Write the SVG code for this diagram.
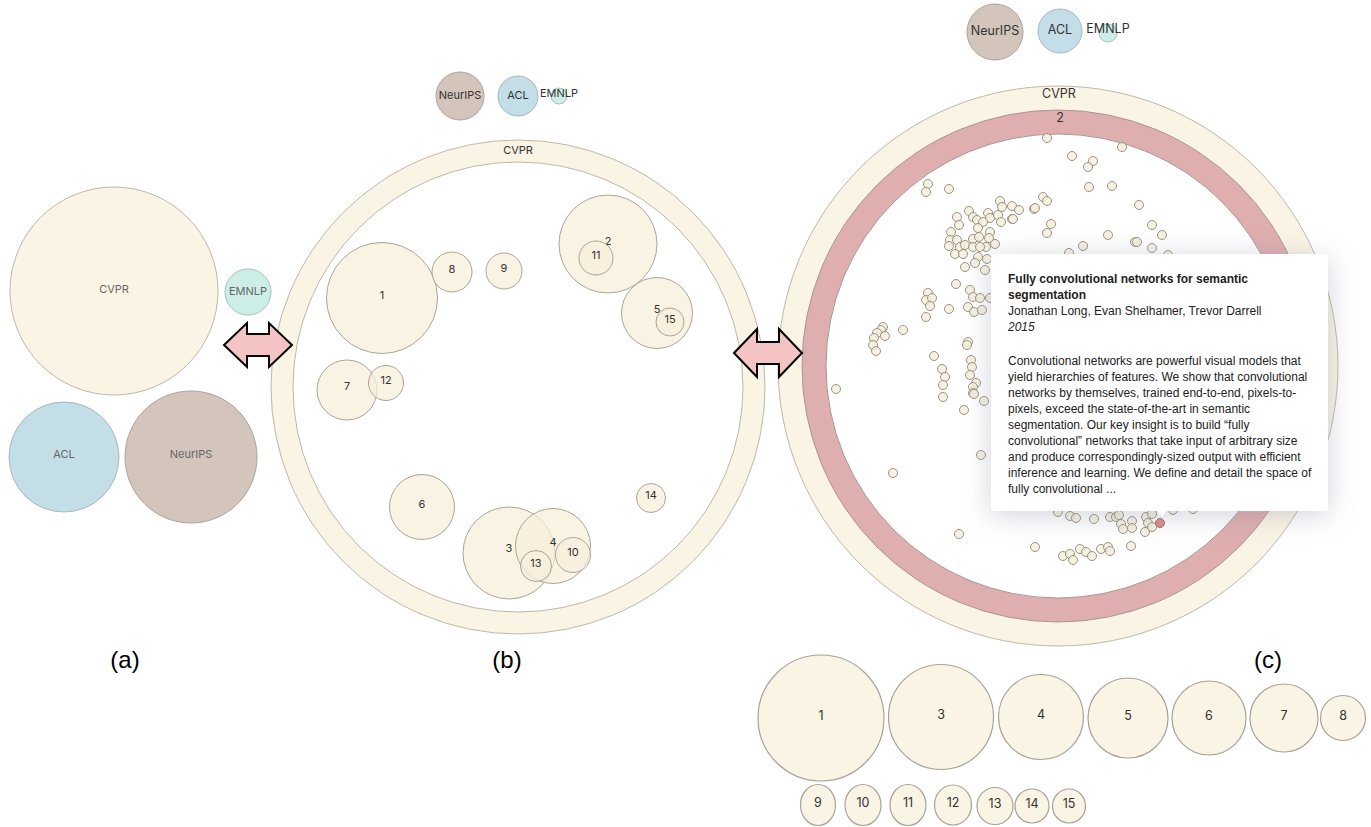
<svg xmlns="http://www.w3.org/2000/svg" width="1371" height="827" viewBox="0 0 1371 827">
<style>
.lbl{font-family:Inter,"Noto Sans",sans-serif;fill:#333;text-anchor:middle;dominant-baseline:central}
.la{font-size:11px;fill:#666}
.lb{font-size:11px}
.lc{font-size:12.5px}
.cream{fill:#faf4e4;stroke:#bdb8ad;stroke-width:1}
.sub{fill:#f7efd9;fill-opacity:0.72;stroke:#aaa59a;stroke-width:1}
.leg{fill:#faf4e4;stroke:#a8a398;stroke-width:1.2}
.acl{fill:#c3dee6;stroke:#a5b9bf;stroke-width:1}
.neu{fill:#d3c5bc;stroke:#aea39b;stroke-width:1}
.emn{fill:#cdeee6;stroke:#9fc4bb;stroke-width:1}
.arrow{fill:#f4c3c3;stroke:#000;stroke-width:2;stroke-linejoin:miter}
.dot{fill:#f4efdc;fill-opacity:0.85;stroke:#9a9484;stroke-width:1}
.cap{font-family:"Liberation Sans",Arial,sans-serif;font-size:24px;fill:#000;text-anchor:middle}
.tt{font-family:"Liberation Sans",Arial,sans-serif;font-size:12px;fill:#222}
</style>
<defs>
<filter id="shadow" x="-30%" y="-30%" width="160%" height="160%">
<feGaussianBlur in="SourceAlpha" stdDeviation="14"/>
<feOffset dx="0" dy="4" result="b"/>
<feFlood flood-color="#7a8098" flood-opacity="0.35"/>
<feComposite in2="b" operator="in"/>
<feMerge><feMergeNode/><feMergeNode in="SourceGraphic"/></feMerge>
</filter>
</defs>
<rect width="1371" height="827" fill="#fff"/>

<!-- Panel (a) -->
<g id="a-cvpr"><circle class="cream" cx="114" cy="291" r="104"/><text class="lbl la" x="114" y="289">CVPR</text></g>
<g id="a-emnlp"><circle class="emn" cx="248" cy="292" r="23"/><text class="lbl la" x="248" y="291">EMNLP</text></g>
<g id="a-acl"><circle class="acl" cx="64" cy="457" r="55"/><text class="lbl la" x="64" y="454">ACL</text></g>
<g id="a-neurips"><circle class="neu" cx="191" cy="457" r="66"/><text class="lbl la" x="191" y="454">NeurIPS</text></g>

<!-- Panel (b) -->
<g id="b-neurips"><circle class="neu" cx="460" cy="96" r="24"/><text class="lbl lb" x="460" y="95">NeurIPS</text></g>
<g id="b-acl"><circle class="acl" cx="518" cy="96" r="20"/><text class="lbl lb" x="518" y="95">ACL</text></g>
<g id="b-emnlp"><circle class="emn" cx="559" cy="96" r="8"/><text class="lbl lb" x="559" y="93">EMNLP</text></g>
<g id="b-cvpr">
<circle class="cream" cx="518" cy="387" r="247"/>
<circle cx="518" cy="387" r="225" fill="#fff" stroke="#bdb8ad" stroke-width="1"/>
<text class="lbl lb" x="518" y="150">CVPR</text>
</g>
<g id="b-1"><circle class="sub" cx="382" cy="298" r="55.5"/><text class="lbl lb" x="382" y="295">1</text></g>
<g id="b-8"><circle class="sub" cx="452" cy="272" r="20"/><text class="lbl lb" x="452" y="269">8</text></g>
<g id="b-9"><circle class="sub" cx="504" cy="271" r="18"/><text class="lbl lb" x="504" y="268">9</text></g>
<g id="b-2"><circle class="sub" cx="608" cy="244" r="49"/><text class="lbl lb" x="608" y="241">2</text></g>
<g id="b-11"><circle class="sub" cx="596" cy="258" r="17"/><text class="lbl lb" x="596" y="255">11</text></g>
<g id="b-5"><circle class="sub" cx="657" cy="313" r="35.5"/><text class="lbl lb" x="657" y="309">5</text></g>
<g id="b-15"><circle class="sub" cx="670" cy="322" r="14"/><text class="lbl lb" x="670" y="319">15</text></g>
<g id="b-7"><circle class="sub" cx="347" cy="390" r="30"/><text class="lbl lb" x="347" y="386">7</text></g>
<g id="b-12"><circle class="sub" cx="386" cy="383" r="17.5"/><text class="lbl lb" x="386" y="380">12</text></g>
<g id="b-6"><circle class="sub" cx="422" cy="507" r="32.5"/><text class="lbl lb" x="422" y="504">6</text></g>
<g id="b-14"><circle class="sub" cx="651" cy="498" r="14.5"/><text class="lbl lb" x="651" y="495">14</text></g>
<g id="b-3"><circle class="sub" cx="509" cy="553" r="46"/><text class="lbl lb" x="509" y="548">3</text></g>
<g id="b-4"><circle class="sub" cx="553" cy="546" r="37.5"/><text class="lbl lb" x="553" y="542">4</text></g>
<g id="b-10"><circle class="sub" cx="573" cy="555" r="17.5"/><text class="lbl lb" x="573" y="552">10</text></g>
<g id="b-13"><circle class="sub" cx="536" cy="566" r="15.5"/><text class="lbl lb" x="536" y="563">13</text></g>

<!-- Panel (c) -->
<g id="c-neurips"><circle class="neu" cx="995" cy="32" r="28"/><text class="lbl lc" x="995" y="30">NeurIPS</text></g>
<g id="c-acl"><circle class="acl" cx="1060" cy="31" r="22"/><text class="lbl lc" x="1060" y="29">ACL</text></g>
<g id="c-emnlp"><circle class="emn" cx="1108" cy="33" r="9"/><text class="lbl lc" x="1108" y="28">EMNLP</text></g>
<g id="c-cvpr">
<circle class="cream" cx="1058" cy="366" r="280"/>
<text class="lbl lc" x="1059" y="93">CVPR</text>
</g>
<g id="c-2">
<circle cx="1058" cy="366" r="256" fill="#dfaeae" stroke="#a89696" stroke-width="1"/>
<circle cx="1058" cy="366" r="232" fill="#fff" stroke="#a89696" stroke-width="1"/>
<text class="lbl lc" x="1060" y="117">2</text>
</g>
<g id="c-papers">
<circle class="dot" cx="1047" cy="138" r="4.5"/><circle class="dot" cx="928" cy="184" r="4.5"/><circle class="dot" cx="926" cy="192" r="4.5"/><circle class="dot" cx="949" cy="189" r="4.5"/><circle class="dot" cx="1000" cy="201" r="4.5"/><circle class="dot" cx="1002" cy="207" r="4.5"/><circle class="dot" cx="1012" cy="206" r="4.5"/><circle class="dot" cx="1019" cy="210" r="4.5"/><circle class="dot" cx="1034" cy="209" r="4.5"/><circle class="dot" cx="1043" cy="197" r="4.5"/><circle class="dot" cx="1047" cy="201" r="4.5"/><circle class="dot" cx="1051" cy="224" r="4.5"/><circle class="dot" cx="1047" cy="233" r="4.5"/><circle class="dot" cx="969" cy="211" r="4.5"/><circle class="dot" cx="973" cy="217" r="4.5"/><circle class="dot" cx="988" cy="213" r="4.5"/><circle class="dot" cx="990" cy="218" r="4.5"/><circle class="dot" cx="998" cy="215" r="4.5"/><circle class="dot" cx="1001" cy="222" r="4.5"/><circle class="dot" cx="1012" cy="219" r="4.5"/><circle class="dot" cx="957" cy="217" r="4.5"/><circle class="dot" cx="959" cy="225" r="4.5"/><circle class="dot" cx="977" cy="220" r="4.5"/><circle class="dot" cx="983" cy="222" r="4.5"/><circle class="dot" cx="978" cy="228" r="4.5"/><circle class="dot" cx="951" cy="232" r="4.5"/><circle class="dot" cx="950" cy="240" r="4.5"/><circle class="dot" cx="949" cy="246" r="4.5"/><circle class="dot" cx="957" cy="240" r="4.5"/><circle class="dot" cx="960" cy="247" r="4.5"/><circle class="dot" cx="965" cy="245" r="4.5"/><circle class="dot" cx="973" cy="239" r="4.5"/><circle class="dot" cx="979" cy="237" r="4.5"/><circle class="dot" cx="990" cy="232" r="4.5"/><circle class="dot" cx="989" cy="238" r="4.5"/><circle class="dot" cx="986" cy="247" r="4.5"/><circle class="dot" cx="995" cy="244" r="4.5"/><circle class="dot" cx="955" cy="254" r="4.5"/><circle class="dot" cx="963" cy="254" r="4.5"/><circle class="dot" cx="973" cy="247" r="4.5"/><circle class="dot" cx="980" cy="247" r="4.5"/><circle class="dot" cx="978" cy="257" r="4.5"/><circle class="dot" cx="987" cy="259" r="4.5"/><circle class="dot" cx="975" cy="263" r="4.5"/><circle class="dot" cx="985" cy="270" r="4.5"/><circle class="dot" cx="965" cy="267" r="4.5"/><circle class="dot" cx="956" cy="284" r="4.5"/><circle class="dot" cx="928" cy="293" r="4.5"/><circle class="dot" cx="926" cy="300" r="4.5"/><circle class="dot" cx="932" cy="298" r="4.5"/><circle class="dot" cx="930" cy="306" r="4.5"/><circle class="dot" cx="949" cy="309" r="4.5"/><circle class="dot" cx="926" cy="317" r="4.5"/><circle class="dot" cx="970" cy="290" r="4.5"/><circle class="dot" cx="973" cy="297" r="4.5"/><circle class="dot" cx="980" cy="298" r="4.5"/><circle class="dot" cx="968" cy="307" r="4.5"/><circle class="dot" cx="974" cy="312" r="4.5"/><circle class="dot" cx="982" cy="310" r="4.5"/><circle class="dot" cx="990" cy="298" r="4.5"/><circle class="dot" cx="883" cy="327" r="4.5"/><circle class="dot" cx="881" cy="330" r="4.5"/><circle class="dot" cx="877" cy="333" r="4.5"/><circle class="dot" cx="885" cy="336" r="4.5"/><circle class="dot" cx="874" cy="338" r="4.5"/><circle class="dot" cx="873" cy="345" r="4.5"/><circle class="dot" cx="876" cy="351" r="4.5"/><circle class="dot" cx="903" cy="330" r="4.5"/><circle class="dot" cx="968" cy="342" r="4.5"/><circle class="dot" cx="967" cy="345" r="4.5"/><circle class="dot" cx="934" cy="356" r="4.5"/><circle class="dot" cx="942" cy="369" r="4.5"/><circle class="dot" cx="945" cy="377" r="4.5"/><circle class="dot" cx="943" cy="385" r="4.5"/><circle class="dot" cx="971" cy="360" r="4.5"/><circle class="dot" cx="972" cy="367" r="4.5"/><circle class="dot" cx="970" cy="375" r="4.5"/><circle class="dot" cx="976" cy="383" r="4.5"/><circle class="dot" cx="973" cy="387" r="4.5"/><circle class="dot" cx="973" cy="393" r="4.5"/><circle class="dot" cx="836" cy="389" r="4.5"/><circle class="dot" cx="943" cy="397" r="4.5"/>
<circle class="dot" cx="964" cy="410" r="4.5"/><circle class="dot" cx="974" cy="394" r="4.5"/><circle class="dot" cx="984" cy="401" r="4.5"/><circle class="dot" cx="981" cy="455" r="4.5"/><circle class="dot" cx="893" cy="473" r="4.5"/><circle class="dot" cx="959" cy="534" r="4.5"/><circle class="dot" cx="1035" cy="547" r="4.5"/>
<circle class="dot" cx="1072" cy="156" r="4.5"/><circle class="dot" cx="1122" cy="147" r="4.5"/><circle class="dot" cx="1093" cy="161" r="4.5"/><circle class="dot" cx="1088" cy="167" r="4.5"/><circle class="dot" cx="1089" cy="187" r="4.5"/><circle class="dot" cx="1112" cy="186" r="4.5"/><circle class="dot" cx="1139" cy="205" r="4.5"/><circle class="dot" cx="1035" cy="208" r="4.5"/><circle class="dot" cx="1013" cy="219" r="4.5"/><circle class="dot" cx="1108" cy="235" r="4.5"/><circle class="dot" cx="1152" cy="225" r="4.5"/><circle class="dot" cx="1162" cy="235" r="4.5"/><circle class="dot" cx="1135" cy="242" r="4.5"/><circle class="dot" cx="1137" cy="242" r="4.5"/><circle class="dot" cx="1152" cy="248" r="4.5"/><circle class="dot" cx="1083" cy="246" r="4.5"/><circle class="dot" cx="1069" cy="253" r="4.5"/><circle class="dot" cx="1168" cy="255" r="4.5"/>
<circle class="dot" cx="1058" cy="512" r="4.5"/><circle class="dot" cx="1070" cy="516" r="4.5"/><circle class="dot" cx="1076" cy="518" r="4.5"/><circle class="dot" cx="1094" cy="519" r="4.5"/><circle class="dot" cx="1110" cy="517" r="4.5"/><circle class="dot" cx="1116" cy="517" r="4.5"/><circle class="dot" cx="1119" cy="515" r="4.5"/><circle class="dot" cx="1121" cy="524" r="4.5"/><circle class="dot" cx="1123" cy="529" r="4.5"/><circle class="dot" cx="1132" cy="521" r="4.5"/><circle class="dot" cx="1132" cy="528" r="4.5"/><circle class="dot" cx="1146" cy="517" r="4.5"/><circle class="dot" cx="1148" cy="523" r="4.5"/><circle class="dot" cx="1152" cy="514" r="4.5"/><circle class="dot" cx="1152" cy="527" r="4.5"/><circle class="dot" cx="1145" cy="532" r="4.5"/><circle class="dot" cx="1173" cy="510" r="4.5"/><circle class="dot" cx="1193" cy="509" r="4.5"/><circle class="dot" cx="1063" cy="556" r="4.5"/><circle class="dot" cx="1070" cy="554" r="4.5"/><circle class="dot" cx="1073" cy="560" r="4.5"/><circle class="dot" cx="1080" cy="549" r="4.5"/><circle class="dot" cx="1086" cy="552" r="4.5"/><circle class="dot" cx="1092" cy="556" r="4.5"/><circle class="dot" cx="1101" cy="549" r="4.5"/><circle class="dot" cx="1108" cy="547" r="4.5"/><circle class="dot" cx="1110" cy="551" r="4.5"/><circle class="dot" cx="1131" cy="546" r="4.5"/>
<circle cx="1160" cy="523" r="4.5" fill="#d98e8e" stroke="#a46a6a" stroke-width="1"/>
</g>
<g id="tooltip">
<g filter="url(#shadow)">
<rect x="991" y="254" width="337" height="257" rx="3" fill="#fff"/>
<polygon points="1157,510 1167,510 1162,517" fill="#fff"/>
</g>
<text class="tt" font-weight="bold" x="1008" y="283">Fully convolutional networks for semantic</text>
<text class="tt" font-weight="bold" x="1008" y="299">segmentation</text>
<text class="tt" x="1008" y="315">Jonathan Long, Evan Shelhamer, Trevor Darrell</text>
<text class="tt" font-style="italic" x="1008" y="331">2015</text>
<text class="tt" x="1008" y="365">Convolutional networks are powerful visual models that</text>
<text class="tt" x="1008" y="381">yield hierarchies of features. We show that convolutional</text>
<text class="tt" x="1008" y="397">networks by themselves, trained end-to-end, pixels-to-</text>
<text class="tt" x="1008" y="413">pixels, exceed the state-of-the-art in semantic</text>
<text class="tt" x="1008" y="429">segmentation. Our key insight is to build “fully</text>
<text class="tt" x="1008" y="445">convolutional” networks that take input of arbitrary size</text>
<text class="tt" x="1008" y="461">and produce correspondingly-sized output with efficient</text>
<text class="tt" x="1008" y="477">inference and learning. We define and detail the space of</text>
<text class="tt" x="1008" y="493">fully convolutional ...</text>
</g>

<!-- Legend -->
<g id="leg-1"><circle class="leg" cx="821" cy="718" r="63"/><text class="lbl lc" x="821" y="715">1</text></g>
<g id="leg-3"><circle class="leg" cx="941" cy="717" r="52.5"/><text class="lbl lc" x="941" y="714">3</text></g>
<g id="leg-4"><circle class="leg" cx="1041" cy="717" r="42.5"/><text class="lbl lc" x="1041" y="714">4</text></g>
<g id="leg-5"><circle class="leg" cx="1128" cy="718" r="40"/><text class="lbl lc" x="1128" y="715">5</text></g>
<g id="leg-6"><circle class="leg" cx="1209" cy="718" r="37"/><text class="lbl lc" x="1209" y="715">6</text></g>
<g id="leg-7"><circle class="leg" cx="1284" cy="718" r="34"/><text class="lbl lc" x="1284" y="715">7</text></g>
<g id="leg-8"><circle class="leg" cx="1343" cy="718" r="22.5"/><text class="lbl lc" x="1343" y="715">8</text></g>
<g id="leg-9"><ellipse class="leg" cx="818" cy="805" rx="17.5" ry="20.5"/><text class="lbl lc" x="818" y="802">9</text></g>
<g id="leg-10"><ellipse class="leg" cx="863" cy="805" rx="18" ry="20.5"/><text class="lbl lc" x="863" y="802">10</text></g>
<g id="leg-11"><ellipse class="leg" cx="908" cy="805" rx="18" ry="20.5"/><text class="lbl lc" x="908" y="802">11</text></g>
<g id="leg-12"><ellipse class="leg" cx="953" cy="805" rx="18.5" ry="20"/><text class="lbl lc" x="953" y="802">12</text></g>
<g id="leg-13"><ellipse class="leg" cx="995" cy="806" rx="18" ry="18.5"/><text class="lbl lc" x="995" y="803">13</text></g>
<g id="leg-14"><ellipse class="leg" cx="1032" cy="806" rx="17" ry="17"/><text class="lbl lc" x="1032" y="803">14</text></g>
<g id="leg-15"><ellipse class="leg" cx="1069" cy="806" rx="16.5" ry="17"/><text class="lbl lc" x="1069" y="803">15</text></g>

<!-- Connectors (transition arrows) -->
<g id="connectors">
<polygon class="arrow" points="224,345 247,323 247,334 269,334 269,323 292,345 269,367 269,356 247,356 247,367"/>
<polygon class="arrow" points="734,353 757,329 757,342 779,342 779,329 802,353 779,377 779,364 757,364 757,377"/>
</g>

<!-- Captions -->
<text class="cap" x="125" y="668">(a)</text>
<text class="cap" x="507" y="668">(b)</text>
<text class="cap" x="1268" y="668">(c)</text>
</svg>
